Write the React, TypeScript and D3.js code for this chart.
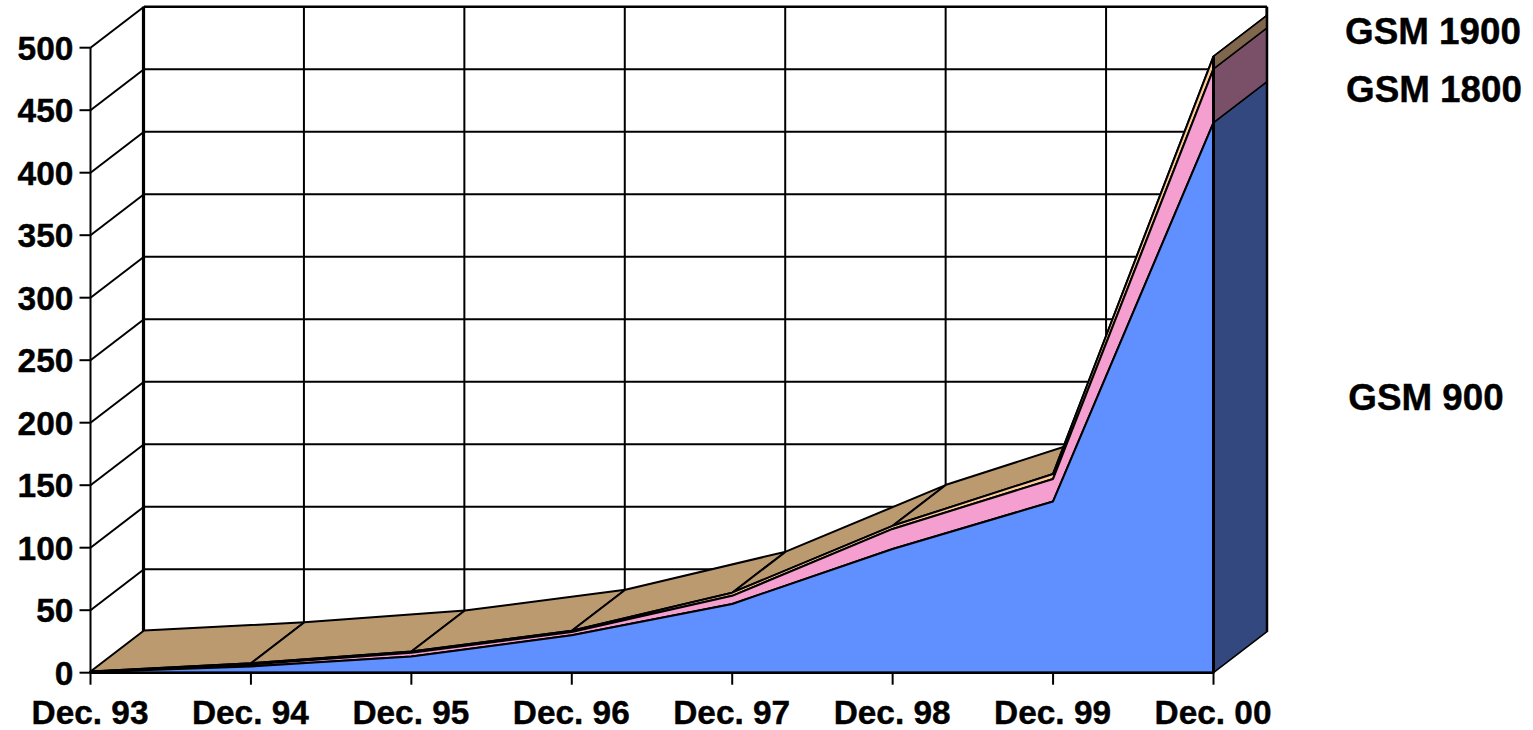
import React from "react";
import * as d3 from "d3";

const categories = ["Dec. 93", "Dec. 94", "Dec. 95", "Dec. 96", "Dec. 97", "Dec. 98", "Dec. 99", "Dec. 00"];
const gsm900 = [0.5, 5, 13, 30, 55, 99, 137, 440];
const gsm1800 = [0.3, 1.5, 3, 2.5, 6.5, 16, 18, 43];
const gsm1900 = [0.2, 1, 1, 1, 2.5, 2.5, 4, 10];
const yTicks = [0, 50, 100, 150, 200, 250, 300, 350, 400, 450, 500];
const seriesNames = ["GSM 900", "GSM 1800", "GSM 1900"];
const frontColors = ["#6090FF", "#F49FD0", "#FFCC99"];
const sideColors = ["#32487F", "#7A5068", "#7F664C"];
const topColor = "#BC9A70";

const DX = 53.5;
const DY = -41;
const FONT = "'Liberation Sans', Arial, sans-serif";

const x = d3.scaleLinear().domain([0, 7]).range([90.5, 1213.5]);
const y = d3.scaleLinear().domain([0, 500]).range([672.7, 47.7]);

const cum: number[][] = [];
[gsm900, gsm1800, gsm1900].forEach((s, k) => {
  cum.push(s.map((v, i) => v + (k > 0 ? cum[k - 1][i] : 0)));
});

const poly = (pts: [number, number][]) => (d3.line()(pts) as string) + "Z";

export default function App() {
  const n = categories.length - 1;
  const top = cum[2];
  const STROKE = "#000";
  return (
    <svg width={1533} height={730} style={{ position: "absolute", left: 0, top: 0, background: "#fff" }} fontFamily={FONT} fontWeight="bold" fill="#000">
      {/* back wall grid */}
      {yTicks.slice(1).map((t) => (
        <line key={t} x1={x(0) + DX} x2={x(n) + DX} y1={y(t) + DY} y2={y(t) + DY} stroke={STROKE} strokeWidth={t === 500 ? 2.5 : 2} />
      ))}
      {categories.map((c, i) => (
        <line key={c} x1={x(i) + DX - 0.5} x2={x(i) + DX - 0.5} y1={y(500) + DY} y2={y(0) + DY} stroke={STROKE} strokeWidth={i === 0 ? 3.2 : 2} />
      ))}
      {/* side wall grid */}
      {yTicks.slice(1).map((t) => (
        <line key={t} x1={x(0)} x2={x(0) + DX} y1={y(t)} y2={y(t) + DY} stroke={STROKE} strokeWidth={2} />
      ))}
      {/* top surface of the stack */}
      {top.slice(0, n).map((v, i) => {
        const a: [number, number] = [x(i), y(v)];
        const b: [number, number] = [x(i + 1), y(top[i + 1])];
        return (
          <path key={i} d={poly([a, b, [b[0] + DX, b[1] + DY], [a[0] + DX, a[1] + DY]])} fill={topColor} stroke={STROKE} strokeWidth={2} strokeLinejoin="round" />
        );
      })}
      {/* right side faces */}
      {cum.map((s, k) => {
        const hi = s[n];
        const lo = k > 0 ? cum[k - 1][n] : 0;
        return (
          <path key={k} d={poly([[x(n), y(lo)], [x(n) + DX, y(lo) + DY], [x(n) + DX, y(hi) + DY], [x(n), y(hi)]])} fill={sideColors[k]} stroke={STROKE} strokeWidth={1.5} strokeLinejoin="round" />
        );
      })}
      {/* front faces, top layer first */}
      {[2, 1, 0].map((k) => {
        const area = d3.area<number>()
          .x((_, i) => x(i))
          .y0((_, i) => y(k > 0 ? cum[k - 1][i] : 0))
          .y1((v) => y(v));
        return <path key={k} d={area(cum[k]) as string} fill={frontColors[k]} stroke={STROKE} strokeWidth={2} strokeLinejoin="round" />;
      })}
      {/* right edges */}
      <line x1={x(n)} x2={x(n)} y1={y(top[n])} y2={y(0)} stroke={STROKE} strokeWidth={3} />
      <line x1={x(n) + DX} x2={x(n) + DX} y1={y(500) + DY} y2={y(0) + DY} stroke={STROKE} strokeWidth={2.5} />
      {/* axes */}
      <line x1={x(0)} x2={x(0)} y1={y(500)} y2={y(0)} stroke={STROKE} strokeWidth={2} />
      <line x1={x(0)} x2={x(n)} y1={y(0)} y2={y(0)} stroke={STROKE} strokeWidth={2.5} />
      {yTicks.map((t) => (
        <g key={t}>
          <line x1={x(0) - 11} x2={x(0)} y1={y(t)} y2={y(t)} stroke={STROKE} strokeWidth={2} />
          <text x={73.5} y={y(t) + 12} textAnchor="end" fontSize={33.5} stroke="#000" strokeWidth={0.4}>{t}</text>
        </g>
      ))}
      {categories.map((c, i) => (
        <g key={c}>
          <line x1={x(i)} x2={x(i)} y1={y(0)} y2={y(0) + 12} stroke={STROKE} strokeWidth={2} />
          <text x={x(i) - 0.5} y={724} textAnchor="middle" fontSize={33.4} stroke="#000" strokeWidth={0.4}>{c}</text>
        </g>
      ))}
      <text x={1433} y={44} textAnchor="middle" fontSize={36.8} stroke="#000" strokeWidth={0.4}>{seriesNames[2]}</text>
      <text x={1434} y={102} textAnchor="middle" fontSize={36.8} stroke="#000" strokeWidth={0.4}>{seriesNames[1]}</text>
      <text x={1426} y={410} textAnchor="middle" fontSize={36.8} stroke="#000" strokeWidth={0.4}>{seriesNames[0]}</text>
    </svg>
  );
}
